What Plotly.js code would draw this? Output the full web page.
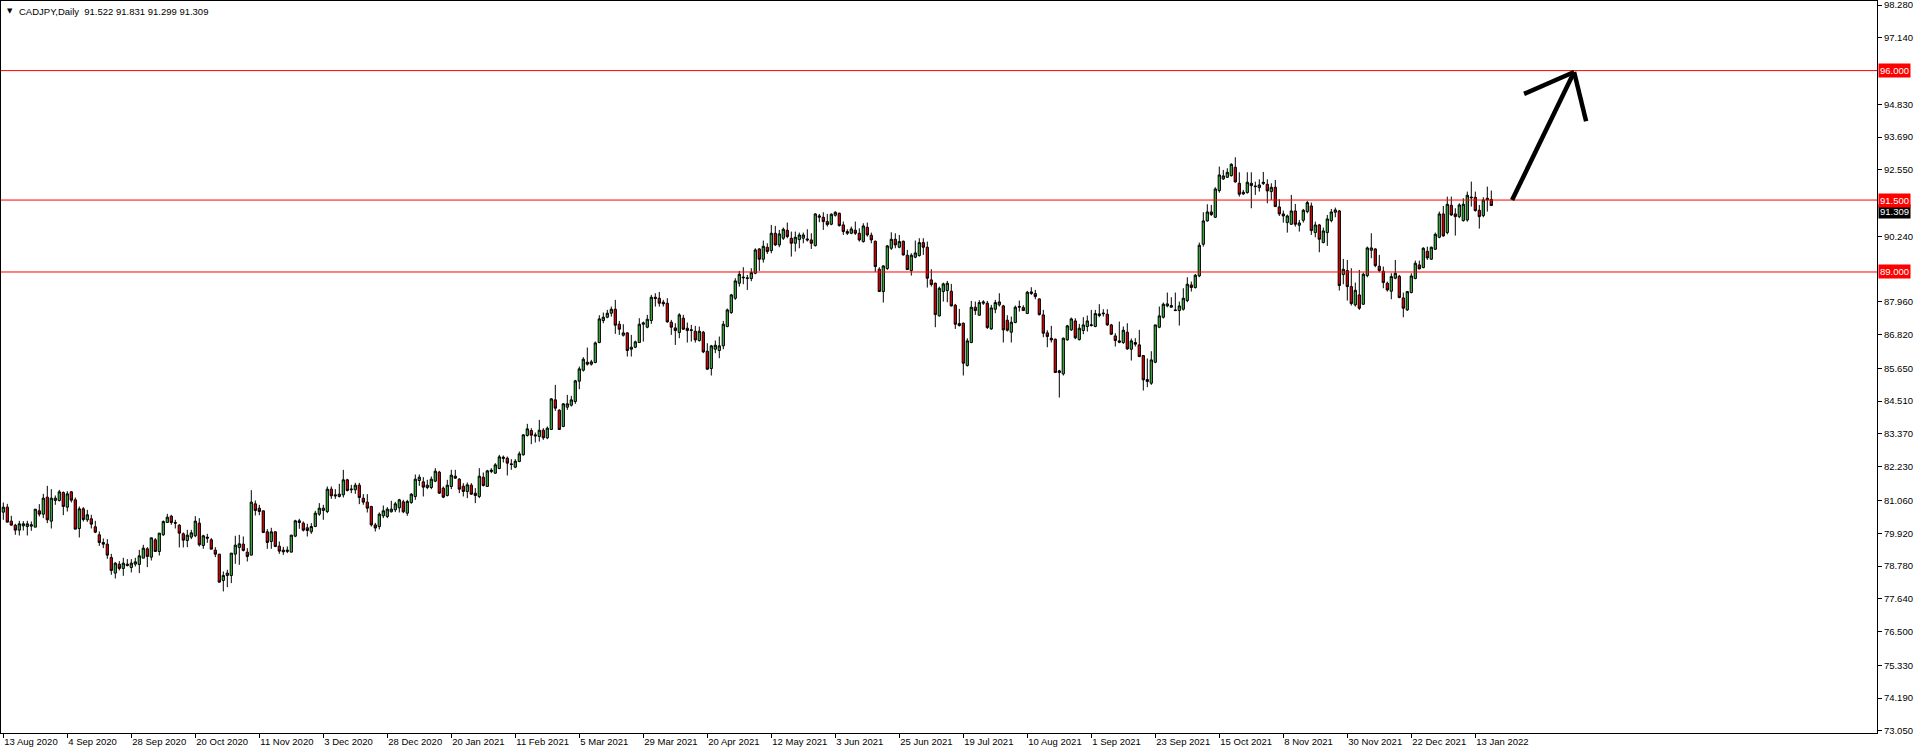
<!DOCTYPE html>
<html>
<head>
<meta charset="utf-8">
<script src="https://cdn.plot.ly/plotly-3.0.1.min.js"></script>
<style>
html,body{margin:0;padding:0;background:#fff;}
#chart{width:1916px;height:755px;}
</style>
</head>
<body>
<div id="chart"></div>
<script>
// ---- DATA (CADJPY Daily, one entry per trading day, oldest first) ----
const symbolTitle = "CADJPY,Daily";
const lastQuote = [91.522, 91.831, 91.299, 91.309]; // O H L C of the last bar

const open = [
80.652,80.826,80.340,80.200,80.027,80.177,80.154,80.166,80.131,80.699,
80.583,81.173,80.340,81.058,81.058,81.336,80.826,81.359,81.081,80.085,
80.768,80.386,80.421,80.143,79.865,79.598,79.540,79.077,78.533,78.845,
78.695,78.845,78.730,78.845,78.834,79.054,79.378,79.089,79.691,79.286,
79.865,80.293,80.513,80.293,80.200,79.899,79.668,79.784,79.830,80.270,
79.494,79.784,79.691,79.332,79.193,78.278,78.452,78.452,79.193,79.425,
79.540,79.262,79.158,80.942,80.791,80.699,79.969,79.633,79.969,79.471,
79.332,79.286,79.262,79.818,80.351,80.270,80.108,79.969,80.154,80.583,
80.710,80.676,81.451,81.254,81.197,81.254,81.776,81.428,81.428,81.590,
81.139,81.000,80.849,80.210,80.150,80.525,80.502,80.664,80.733,80.803,
81.011,80.617,80.988,81.197,81.752,81.706,81.509,81.509,81.729,82.042,
81.486,81.231,81.544,81.903,81.799,81.556,81.370,81.590,81.312,81.197,
81.868,81.544,82.065,82.007,82.169,82.517,82.528,82.332,82.216,82.413,
82.644,83.316,83.490,83.339,83.281,83.501,83.235,83.525,84.555,84.196,
83.629,84.301,84.370,84.498,85.204,85.586,85.864,85.795,85.853,86.547,
87.312,87.428,87.567,87.706,87.185,86.802,86.883,86.316,86.385,86.547,
87.184,87.080,87.312,88.123,88.088,87.949,87.914,87.254,87.057,86.895,
87.393,87.045,86.964,86.941,86.617,86.906,86.246,85.644,86.316,86.269,
86.432,87.103,87.590,88.088,88.609,88.794,88.771,88.771,88.957,89.802,
89.443,89.860,89.744,90.346,89.941,90.173,90.451,90.173,89.999,90.126,
90.173,90.149,90.115,89.918,90.902,90.902,90.752,90.659,90.972,91.041,
90.636,90.404,90.346,90.451,90.346,90.057,90.555,90.277,90.068,89.096,
88.320,89.119,89.825,90.138,89.860,90.068,89.582,89.049,89.513,89.570,
90.022,89.860,88.725,88.609,87.474,88.320,88.355,88.331,87.845,87.208,
87.219,85.748,86.548,87.775,87.497,87.914,87.914,87.022,87.706,87.857,
87.822,87.324,86.907,87.242,87.775,87.764,87.555,88.250,88.250,88.065,
87.509,86.884,86.698,86.663,85.563,85.459,86.640,86.988,87.300,86.652,
86.965,87.104,87.138,87.104,87.486,87.544,87.532,87.161,86.779,86.606,
86.548,86.907,86.316,86.548,86.467,86.096,85.192,85.135,85.864,87.080,
87.428,87.822,87.775,87.683,87.659,87.706,88.007,88.551,88.459,88.864,
89.964,90.775,91.088,90.902,91.829,92.234,92.292,92.350,92.640,92.084,
91.713,91.759,92.083,91.991,91.933,92.072,92.049,91.794,91.944,91.261,
91.018,90.717,90.659,91.122,90.624,90.798,91.099,91.296,90.369,90.635,
90.022,90.369,90.786,91.076,91.122,88.910,89.049,88.493,87.856,88.203,
87.879,88.875,89.755,89.802,89.199,89.026,88.609,88.331,88.783,88.852,
88.099,87.682,88.284,88.771,89.246,89.153,89.721,89.443,89.790,90.207,
91.018,90.369,91.319,91.018,90.925,90.786,90.809,91.574,91.597,91.145,
90.960,91.562,91.522
];

const high = [
80.988,80.942,80.525,80.247,80.351,80.340,80.351,80.328,80.756,80.930,
81.289,81.567,81.451,81.231,81.428,81.370,81.382,81.382,81.162,80.849,
80.826,80.733,80.560,80.351,79.980,79.737,79.714,79.204,78.915,78.950,
79.065,79.019,79.019,79.065,79.343,79.517,79.436,79.760,79.749,79.923,
80.363,80.594,80.560,80.386,80.235,79.946,80.038,80.038,80.513,80.444,
79.865,79.899,79.749,79.436,79.193,78.591,78.649,79.228,79.830,79.865,
79.807,79.401,81.417,81.058,80.907,80.699,80.061,80.108,79.980,79.633,
79.448,79.459,79.865,80.386,80.421,80.328,80.247,80.270,80.699,80.965,
80.907,81.544,81.544,81.451,81.637,82.123,81.810,81.602,81.672,81.672,
81.278,81.278,80.872,80.280,80.641,80.884,80.826,81.046,81.011,81.115,
81.081,81.081,81.312,81.961,81.961,81.868,81.776,81.892,82.181,82.088,
81.544,81.776,82.123,82.123,81.834,81.660,81.683,81.660,81.486,82.181,
82.031,82.123,82.181,82.355,82.644,82.621,82.586,82.494,82.494,82.760,
83.362,83.722,83.571,83.420,83.861,83.571,83.629,84.613,85.077,84.231,
84.440,84.729,84.694,85.250,85.714,86.038,86.374,85.945,86.582,87.497,
87.590,87.683,87.798,88.030,87.300,87.185,86.907,86.814,86.617,87.393,
87.277,87.509,88.204,88.262,88.308,88.030,88.088,87.335,87.219,87.567,
87.509,87.242,87.161,87.127,87.103,86.953,86.524,86.466,86.617,86.756,
87.300,87.729,88.238,88.783,89.038,89.165,88.899,89.130,89.825,89.825,
90.092,89.999,90.636,90.601,90.462,90.543,90.717,90.404,90.404,90.369,
90.369,90.485,90.346,91.041,91.018,91.076,91.018,91.041,91.111,91.064,
90.752,90.485,90.578,90.752,90.520,90.694,90.717,90.369,90.092,89.165,
89.235,89.941,90.381,90.346,90.288,90.092,89.767,89.651,90.092,90.173,
90.173,90.057,89.096,88.632,88.493,88.632,88.690,88.586,87.891,87.718,
87.242,86.698,87.995,87.972,88.019,88.019,87.995,87.857,88.030,88.262,
87.857,87.497,87.451,87.833,88.007,87.845,88.343,88.470,88.378,88.077,
87.683,86.976,87.127,86.687,85.598,86.721,87.161,87.416,87.393,87.196,
87.428,87.486,87.683,87.683,87.880,87.706,87.706,87.196,86.872,87.277,
87.104,87.219,86.687,86.698,86.988,86.096,85.992,86.246,87.161,87.799,
87.937,88.285,88.123,88.285,87.972,88.436,88.818,88.667,88.934,90.022,
91.076,91.354,91.331,91.945,92.663,92.547,92.605,92.779,92.987,92.466,
91.852,92.466,92.465,92.141,92.222,92.477,92.222,92.083,92.199,91.527,
91.134,90.995,91.678,91.365,90.809,91.192,91.470,91.412,90.751,90.670,
90.543,90.983,91.192,91.238,91.157,89.454,89.419,89.130,88.632,89.072,
88.979,89.883,90.346,89.825,89.593,89.188,88.667,88.956,89.419,88.898,
88.284,88.342,88.956,89.396,89.396,89.860,89.883,89.883,90.369,91.099,
91.296,91.620,91.620,91.215,91.388,91.562,91.794,92.141,91.794,91.331,
91.597,91.968,91.831
];

const low = [
80.386,80.305,80.200,79.865,79.841,80.015,79.841,80.004,80.131,80.502,
80.444,80.270,80.085,80.907,81.023,80.548,80.675,80.988,80.061,79.772,
80.328,80.316,80.085,79.923,79.482,79.401,79.031,78.475,78.347,78.625,
78.440,78.764,78.556,78.764,78.533,79.054,78.741,78.973,79.286,79.146,
79.830,80.293,80.212,80.085,79.425,79.425,79.436,79.714,79.784,79.459,
79.378,79.587,79.367,79.089,78.208,77.896,78.046,78.185,78.857,78.822,
79.286,78.938,79.158,80.536,80.548,79.923,79.378,79.378,79.436,79.204,
79.170,79.228,79.262,79.784,80.073,79.980,79.807,79.899,80.131,80.525,
80.386,80.617,81.115,81.115,81.162,81.162,81.370,81.312,81.289,80.930,
80.907,80.641,80.154,79.980,80.050,80.444,80.444,80.641,80.652,80.641,
80.617,80.525,80.942,81.081,81.567,81.197,81.451,81.451,81.695,81.289,
81.139,81.197,81.451,81.810,81.312,81.197,81.139,81.254,80.965,81.139,
81.544,81.544,82.007,81.984,82.146,82.378,81.926,82.123,82.181,82.390,
82.621,83.281,83.015,83.073,83.108,83.166,83.189,83.513,84.173,83.513,
83.606,84.208,84.324,84.417,84.926,85.540,85.748,85.748,85.829,86.524,
87.219,87.393,87.451,86.849,86.814,86.756,86.061,86.061,86.351,86.547,
86.582,87.045,87.196,87.798,87.798,87.798,87.242,86.814,86.466,86.698,
86.988,86.547,86.582,86.547,86.582,86.177,85.598,85.401,86.177,86.003,
86.316,87.080,87.544,88.030,88.493,88.574,88.377,88.679,88.922,89.038,
89.327,89.628,89.651,89.906,89.860,90.115,90.173,89.536,89.709,89.825,
89.999,90.057,89.802,89.883,90.729,90.462,90.578,90.624,90.925,90.578,
90.288,90.288,90.312,90.288,90.057,90.022,90.231,89.999,89.003,88.320,
87.937,89.072,89.767,89.825,89.825,89.570,89.072,88.875,89.478,89.536,
89.594,88.459,88.493,87.080,87.451,87.972,87.949,87.799,87.022,87.104,
85.401,85.713,86.525,87.509,87.486,87.857,87.022,86.988,87.567,87.799,
86.548,86.930,86.548,87.219,87.625,87.648,87.544,88.204,88.053,87.486,
86.733,86.385,86.548,85.505,84.637,85.401,86.617,86.953,86.663,86.617,
86.837,86.930,87.104,87.080,87.428,87.451,87.127,86.814,86.409,86.525,
86.501,86.293,85.922,86.409,86.038,84.880,84.996,85.077,85.829,87.046,
87.381,87.775,87.764,87.648,87.138,87.659,87.949,88.320,88.424,88.818,
89.883,90.752,90.949,90.879,91.759,92.200,92.269,92.315,92.107,91.620,
91.678,91.725,91.215,91.678,91.794,92.025,91.388,91.504,91.273,90.948,
90.717,90.369,90.635,90.578,90.404,90.717,91.041,90.288,90.207,89.686,
89.999,89.906,90.728,90.902,88.354,88.574,88.006,87.833,87.798,87.682,
87.856,88.817,89.477,89.165,88.991,88.435,88.319,88.053,88.748,88.088,
87.427,87.647,88.261,88.748,89.095,89.130,89.419,89.419,89.767,90.172,
90.230,90.311,90.948,90.265,90.867,90.751,90.751,91.273,91.099,90.508,
90.902,91.099,91.299
];

const close = [
80.826,80.305,80.200,80.027,80.247,80.247,80.247,80.212,80.756,80.583,
81.139,80.386,81.139,81.139,81.359,80.849,81.289,81.069,80.061,80.768,
80.397,80.560,80.235,79.957,79.598,79.540,79.158,78.625,78.880,78.695,
78.880,78.799,78.880,78.926,79.135,79.401,79.112,79.760,79.286,79.923,
80.328,80.478,80.293,80.270,79.923,79.679,79.853,79.934,80.340,79.517,
79.830,79.749,79.367,79.193,78.220,78.452,78.533,79.228,79.506,79.552,
79.320,79.112,81.000,80.710,80.675,79.946,79.598,79.969,79.459,79.297,
79.274,79.332,79.853,80.351,80.293,80.027,80.015,80.154,80.617,80.791,
80.791,81.451,81.220,81.220,81.278,81.776,81.405,81.451,81.590,81.162,
81.000,80.791,80.212,80.100,80.583,80.699,80.757,80.757,80.942,81.081,
80.664,81.023,81.278,81.799,81.868,81.521,81.590,81.799,82.077,81.312,
81.173,81.590,81.938,81.834,81.451,81.370,81.602,81.278,81.231,81.903,
81.579,82.088,82.112,82.297,82.575,82.563,82.355,82.308,82.424,82.679,
83.339,83.548,83.328,83.305,83.501,83.235,83.571,84.590,84.266,83.525,
84.417,84.417,84.555,85.216,85.633,85.968,85.795,85.876,86.536,87.370,
87.428,87.567,87.706,87.150,87.011,86.883,86.270,86.385,86.571,87.184,
87.231,87.358,88.123,88.076,87.914,87.891,87.265,87.080,86.964,87.509,
87.011,86.964,86.988,86.640,86.941,86.223,85.621,86.432,86.455,86.432,
87.184,87.683,88.204,88.690,88.922,88.818,88.794,88.980,89.767,89.443,
89.895,89.709,90.346,89.941,90.323,90.485,90.231,89.999,90.207,90.288,
90.288,90.115,89.999,91.018,90.949,90.752,90.647,91.007,91.076,90.613,
90.404,90.346,90.497,90.346,90.115,90.601,90.288,90.115,89.188,88.320,
89.211,89.906,90.138,89.941,90.057,89.594,89.084,89.582,89.663,90.022,
89.860,88.783,88.563,87.520,88.435,88.586,88.609,87.822,87.184,87.138,
85.829,86.606,87.775,87.659,87.937,87.960,87.069,87.752,87.937,87.960,
86.988,86.976,87.254,87.775,87.799,87.659,88.297,88.308,88.146,87.520,
86.872,86.756,86.640,85.505,85.505,86.698,87.127,87.370,86.710,87.046,
87.161,87.300,87.161,87.555,87.544,87.567,87.161,86.837,86.617,86.559,
86.976,86.328,86.606,86.490,86.061,85.250,85.262,85.945,87.161,87.474,
87.880,87.891,87.833,87.659,87.822,88.088,88.575,88.459,88.887,89.930,
90.775,91.088,90.995,91.887,92.373,92.339,92.466,92.744,92.130,91.702,
91.771,92.119,92.002,91.968,92.025,92.118,91.817,91.944,91.273,91.018,
90.948,90.948,91.122,90.659,90.705,91.145,91.412,90.439,90.635,90.138,
90.427,90.844,91.087,91.157,88.528,89.095,88.493,87.902,88.366,87.740,
88.921,89.836,89.836,89.223,89.049,88.632,88.377,88.840,88.956,88.111,
87.740,88.319,88.863,89.304,89.107,89.825,89.489,89.860,90.311,91.018,
90.253,91.354,90.983,90.925,91.331,91.354,91.666,91.597,91.134,90.925,
91.504,91.504,91.309
];

// time-axis labels, one every 16 bars starting at the first bar
const dateLabels = [
'13 Aug 2020','4 Sep 2020','28 Sep 2020','20 Oct 2020','11 Nov 2020','3 Dec 2020',
'28 Dec 2020','20 Jan 2021','11 Feb 2021','5 Mar 2021','29 Mar 2021','20 Apr 2021',
'12 May 2021','3 Jun 2021','25 Jun 2021','19 Jul 2021','10 Aug 2021','1 Sep 2021',
'23 Sep 2021','15 Oct 2021','8 Nov 2021','30 Nov 2021','22 Dec 2021','13 Jan 2022'
];
const barsPerLabel = 16;

// price scale labels
const priceTicks = [98.28,97.14,94.83,93.69,92.55,90.24,87.96,86.82,85.65,84.51,
                    83.37,82.23,81.06,79.92,78.78,77.64,76.50,75.33,74.19,73.05];

// horizontal levels drawn on the chart
const levels = [96.0, 91.5, 89.0];

// ---- CHART ----
const barIndex = open.map((_, i) => i);
const tickBars = dateLabels.map((_, i) => i * barsPerLabel);
const FAMILY = 'Liberation Sans, Arial, sans-serif';
const FONT = {family: FAMILY, size: 9.5, color: '#000'};

const trace = {
  type: 'candlestick',
  x: barIndex, open: open, high: high, low: low, close: close,
  increasing: {line: {color: '#000', width: 1}, fillcolor: '#3cb043'},
  decreasing: {line: {color: '#000', width: 1}, fillcolor: '#e00000'},
  whiskerwidth: 0,
  hoverinfo: 'skip'
};

const shapes = levels.map(v => ({
  type: 'line', xref: 'paper', x0: 0, x1: 1, yref: 'y', y0: v, y1: v,
  line: {color: '#ff0000', width: 1}
}));

// hand-drawn arrow (chart object)
const arrowLines = [
  [377.2, 91.50, 392.7, 95.95],
  [392.7, 95.95, 380.2, 95.19],
  [392.7, 95.95, 395.7, 94.24]
];
arrowLines.forEach(a => shapes.push({
  type: 'line', xref: 'x', yref: 'y', x0: a[0], y0: a[1], x1: a[2], y1: a[3],
  line: {color: '#000', width: 4.5}
}));

const annotations = [];
annotations.push({
  xref: 'paper', yref: 'paper', x: 0, y: 1, xanchor: 'left', yanchor: 'middle',
  xshift: 4, yshift: -10, showarrow: false, text: '▼',
  font: {family: 'DejaVu Sans', size: 7, color: '#000'}
});
annotations.push({
  xref: 'paper', yref: 'paper', x: 0, y: 1, xanchor: 'left', yanchor: 'middle',
  xshift: 16, yshift: -10, showarrow: false,
  text: symbolTitle + '&nbsp;&nbsp;' + lastQuote.map(v => v.toFixed(3)).join(' '),
  font: FONT
});
// last price box, sitting just under the 91.500 level box
annotations.push({
  xref: 'paper', yref: 'y', x: 1, y: lastQuote[3], xanchor: 'left', yanchor: 'middle',
  xshift: 1, yshift: -6, showarrow: false, text: lastQuote[3].toFixed(3),
  font: {family: FAMILY, size: 9.5, color: '#fff'}, bgcolor: '#000', borderpad: 1
});
levels.forEach(v => annotations.push({
  xref: 'paper', yref: 'y', x: 1, y: v, xanchor: 'left', yanchor: 'middle',
  xshift: 1, showarrow: false, text: v.toFixed(3),
  font: {family: FAMILY, size: 9.5, color: '#fff'}, bgcolor: '#ff0000', borderpad: 1
}));

const layout = {
  width: 1916, height: 755,
  margin: {l: 1, r: 39, t: 1, b: 22, pad: 0},
  paper_bgcolor: '#fff', plot_bgcolor: '#fff',
  showlegend: false, hovermode: false,
  boxgap: 0.2,
  xaxis: {
    range: [-0.575, 468.425], showgrid: false, zeroline: false,
    showline: true, linecolor: '#000', linewidth: 1, mirror: true,
    ticks: 'outside', ticklen: 4, tickcolor: '#000', tickwidth: 1,
    tickvals: tickBars, ticktext: dateLabels, tickangle: 0,
    ticklabelposition: 'outside right', ticklabeloverflow: 'allow',
    tickfont: FONT, rangeslider: {visible: false}, fixedrange: true
  },
  yaxis: {
    side: 'right', range: [72.976, 98.419], showgrid: false, zeroline: false,
    showline: true, linecolor: '#000', linewidth: 1, mirror: true,
    ticks: 'outside', ticklen: 4, tickcolor: '#000', tickwidth: 1,
    tickvals: priceTicks, ticktext: priceTicks.map(v => v.toFixed(3)),
    ticklabeloverflow: 'allow',
    tickfont: FONT, fixedrange: true
  },
  shapes: shapes,
  annotations: annotations
};

Plotly.newPlot('chart', [trace], layout, {staticPlot: true, displayModeBar: false});
</script>
</body>
</html>
